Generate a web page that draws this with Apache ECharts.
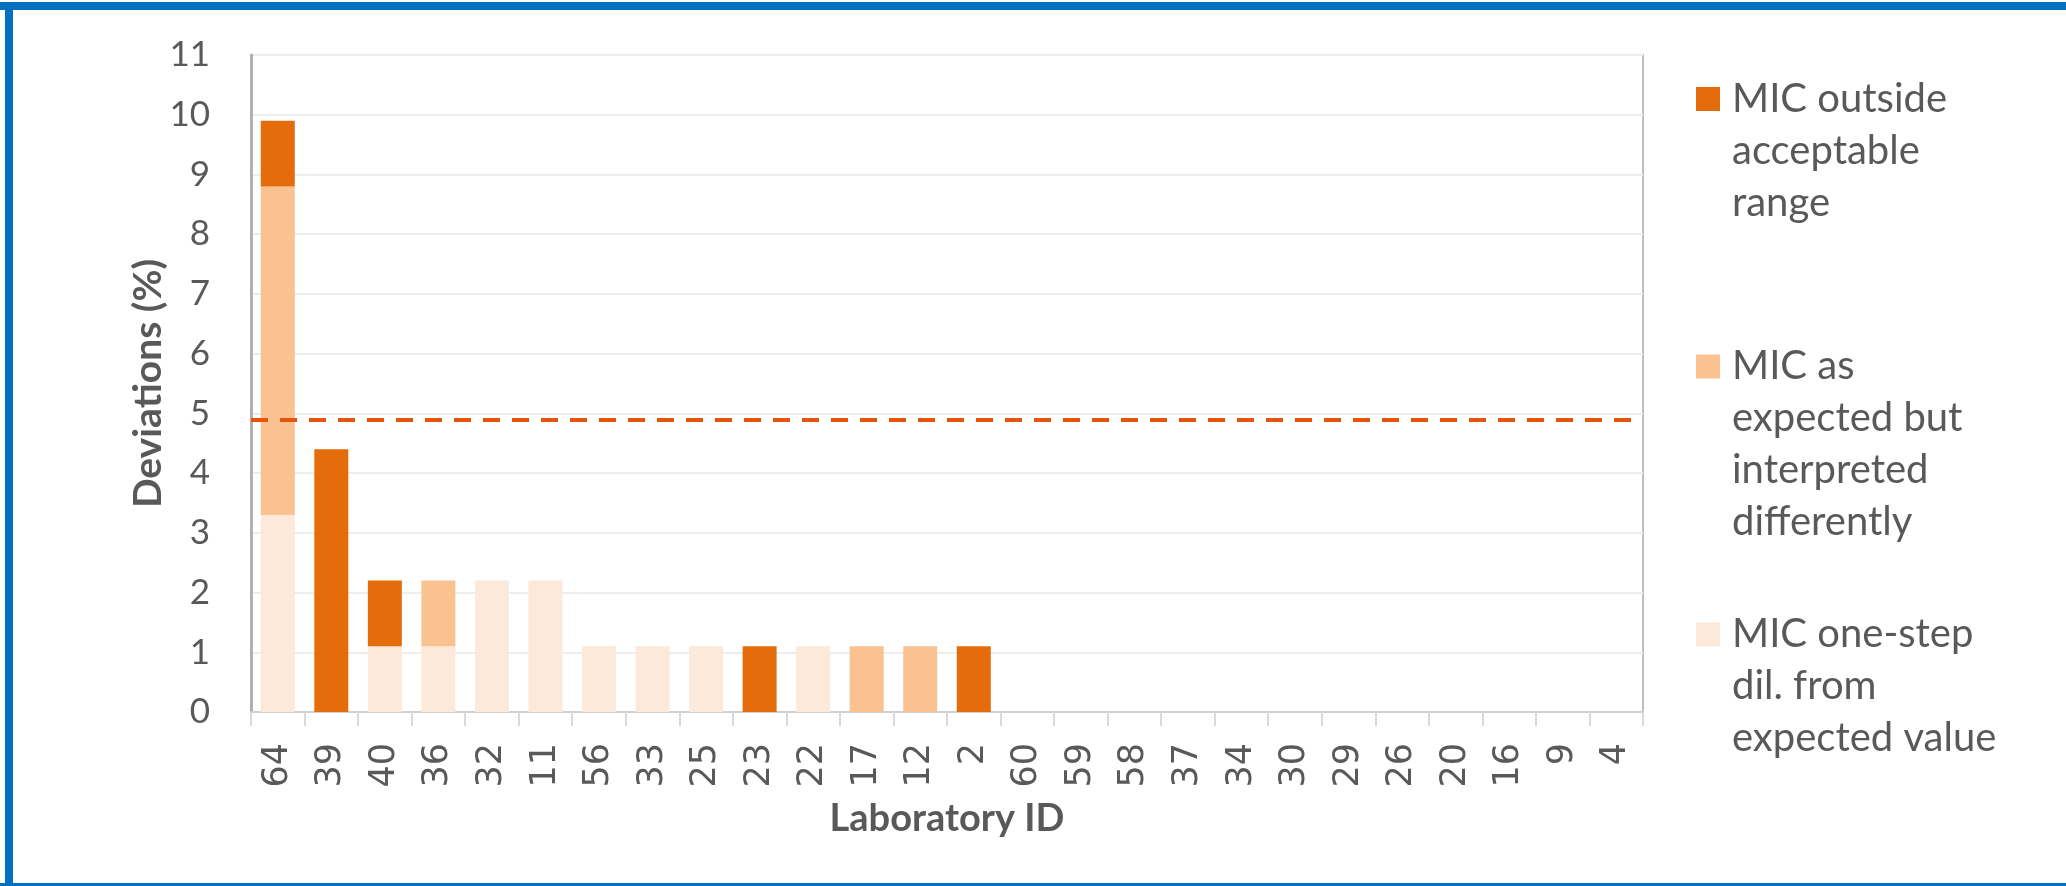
<!DOCTYPE html>
<html>
<head>
<meta charset="utf-8">
<script src="https://cdn.jsdelivr.net/npm/echarts@6/dist/echarts.min.js"></script>
<style>
  html, body { margin: 0; padding: 0; background: #ffffff; }
  #chart { width: 2066px; height: 886px; }
</style>
</head>
<body>
<div id="chart"></div>
<script>
// Laboratory IDs, ordered by total deviation
const labIds = ['64','39','40','36','32','11','56','33','25','23','22','17','12','2',
                '60','59','58','37','34','30','29','26','20','16','9','4'];

// Deviations (%) per category of result
const oneStepDil = [3.3, 0, 1.1, 1.1, 2.2, 2.2, 1.1, 1.1, 1.1, 0, 1.1, 0, 0, 0,
                    0, 0, 0, 0, 0, 0, 0, 0, 0, 0, 0, 0];
const interpretedDiff = [5.5, 0, 0, 1.1, 0, 0, 0, 0, 0, 0, 0, 1.1, 1.1, 0,
                         0, 0, 0, 0, 0, 0, 0, 0, 0, 0, 0, 0];
const outsideRange = [1.1, 4.4, 1.1, 0, 0, 0, 0, 0, 0, 1.1, 0, 0, 0, 1.1,
                      0, 0, 0, 0, 0, 0, 0, 0, 0, 0, 0, 0];

// Acceptance limit (%)
const limit = 4.9;

// Y axis ticks
const yMin = 0, yMax = 11, yStep = 1;

const seriesNames = [
  'MIC outside acceptable range',
  'MIC as expected but interpreted differently',
  'MIC one-step dil. from expected value'
];
const legendLines = [
  ['MIC outside', 'acceptable', 'range'],
  ['MIC as', 'expected but', 'interpreted', 'differently'],
  ['MIC one-step', 'dil. from', 'expected value']
];

const colors = { dark: '#E46C0A', mid: '#FAC191', light: '#FDE9D9' };
const textGray = '#595959';
const LH = 52;

// One legend block per series. The label is padded with blank lines on top
// so that its first line sits level with the colour square.
function legendBlock(idx, iconCenterY) {
  const lines = legendLines[idx];
  const n = lines.length;
  const h = (2 * n - 1) * LH;
  const label = new Array(n - 1).fill(' ').concat(lines).join('\n');
  return {
    data: [seriesNames[idx]],
    left: 1696,
    top: iconCenterY - h / 2,
    orient: 'vertical',
    padding: 0,
    itemWidth: 24,
    itemHeight: 24,
    icon: 'rect',
    selectedMode: false,
    formatter: () => label,
    textStyle: {
      fontFamily: 'Lato',
      fontSize: 40,
      lineHeight: LH,
      color: textGray,
      padding: [0, 0, 0, 7]
    }
  };
}

const chart = echarts.init(document.getElementById('chart'), null, { renderer: 'canvas' });

chart.setOption({
  animation: false,
  backgroundColor: '#ffffff',
  graphic: [
    { type: 'rect', shape: { x: 0, y: 2, width: 2066, height: 8 }, style: { fill: '#0070C0' }, silent: true },
    { type: 'rect', shape: { x: 5, y: 2, width: 8, height: 884 }, style: { fill: '#0070C0' }, silent: true },
    { type: 'rect', shape: { x: 0, y: 883, width: 2066, height: 3 }, style: { fill: '#0070C0' }, silent: true }
  ],
  grid: {
    left: 251, right: 423, top: 55, bottom: 174,
    show: true,
    borderColor: '#BFBFBF',
    borderWidth: 2,
    containLabel: false
  },
  legend: [
    legendBlock(0, 99),
    legendBlock(1, 366.5),
    legendBlock(2, 634.5)
  ],
  xAxis: {
    type: 'category',
    data: labIds,
    name: 'Laboratory ID',
    nameLocation: 'middle',
    nameGap: 88,
    nameMoveOverlap: false,
    nameTextStyle: { fontFamily: 'Lato', fontWeight: 'bold', fontSize: 38, color: textGray },
    axisLine: { show: true, lineStyle: { color: '#D0D0D0', width: 2 } },
    axisTick: { show: true, alignWithLabel: false, length: 14, lineStyle: { color: '#D9D9D9', width: 2 } },
    axisLabel: {
      rotate: 90,
      margin: 31,
      interval: 0,
      fontFamily: 'DejaVu Sans',
      fontSize: 35,
      color: textGray
    }
  },
  yAxis: {
    type: 'value',
    min: yMin, max: yMax, interval: yStep,
    name: 'Deviations (%)',
    nameLocation: 'middle',
    nameGap: 83,
    nameMoveOverlap: false,
    nameTextStyle: { fontFamily: 'Lato', fontWeight: 'bold', fontSize: 39, color: textGray },
    axisLine: { show: true, lineStyle: { color: '#B0B0B0', width: 3 } },
    axisTick: { show: false },
    axisLabel: { margin: 41, fontFamily: 'Lato', fontSize: 35, color: textGray },
    splitLine: { show: true, lineStyle: { color: '#EDEDED', width: 2 } }
  },
  series: [
    {
      name: seriesNames[2], type: 'bar', stack: 'dev', barWidth: 34,
      itemStyle: { color: colors.light },
      data: oneStepDil,
      markLine: {
        silent: true,
        symbol: 'none',
        label: { show: false },
        lineStyle: { color: '#E4550B', width: 4, type: [17, 12] },
        data: [{ yAxis: limit }]
      }
    },
    {
      name: seriesNames[1], type: 'bar', stack: 'dev', barWidth: 34,
      itemStyle: { color: colors.mid },
      data: interpretedDiff
    },
    {
      name: seriesNames[0], type: 'bar', stack: 'dev', barWidth: 34,
      itemStyle: { color: colors.dark },
      data: outsideRange
    }
  ]
});
</script>
</body>
</html>
